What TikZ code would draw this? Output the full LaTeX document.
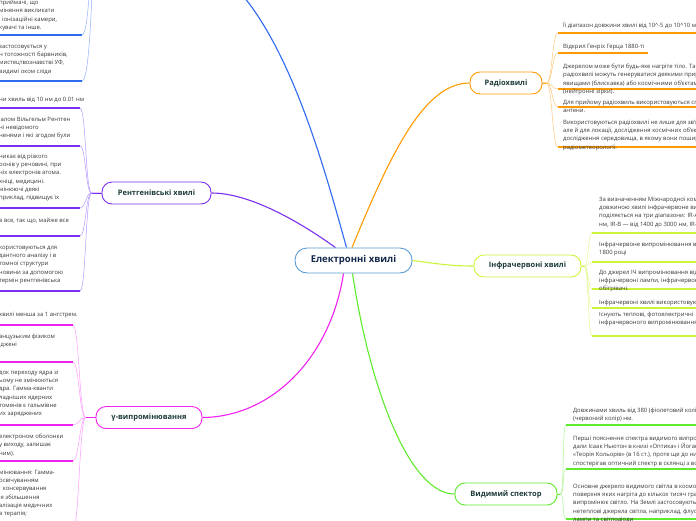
\documentclass[tikz,border=0pt]{standalone}
\usepackage{fontspec}
\setmainfont{Open Sans}
\usetikzlibrary{positioning,backgrounds}

\definecolor{cblue}{HTML}{2F6BF0}
\definecolor{cbluel}{HTML}{8FB0FF}
\definecolor{cpurp}{HTML}{7B2FF0}
\definecolor{cpurpl}{HTML}{B898FF}
\definecolor{cmag}{HTML}{F022F0}
\definecolor{cmagl}{HTML}{FF99FF}
\definecolor{corng}{HTML}{FF9A00}
\definecolor{corngl}{HTML}{FFC77A}
\definecolor{cyel}{HTML}{CCF53A}
\definecolor{cyell}{HTML}{E0F98A}
\definecolor{cgrn}{HTML}{5EEB2E}
\definecolor{cgrnl}{HTML}{A8F590}
\definecolor{ccent}{HTML}{5B9BD5}
\definecolor{ctxt}{HTML}{3A3A3A}
\definecolor{chead}{HTML}{1E3A3A}
\definecolor{cnavy}{HTML}{14284B}

\begin{document}
\begin{tikzpicture}[x=1pt, y=-1pt,
  topic/.style={draw, rounded corners=10pt, minimum height=22pt, fill=white,
                line width=0.9pt, text=chead, inner xsep=6pt,
                font=\fontsize{7.5}{9}\selectfont\bfseries},
  root/.style={draw=ccent, rounded corners=12pt, minimum width=117pt, minimum height=25pt,
               fill=white, line width=0.9pt, text=cnavy,
               font=\fontsize{9.5}{11}\selectfont\bfseries},
  leaf/.style={font=\fontsize{5.9}{8.2}\selectfont, text=ctxt, align=left,
               inner sep=0pt, anchor=north west},
  main/.style={line width=1.1pt},
  twig/.style={line width=0.5pt},
  uline/.style={line width=1.4pt}
]
\useasboundingbox (0,0) rectangle (696,520);

%% Central topic and main branches
\node[root] (nc) at (353.5,260.5) {Електронні хвилі};
\node[topic, draw=corng, minimum width=72pt] (nr) at (506,83) {Радіохвилі};
\node[topic, draw=cyel, minimum width=107pt] (ni) at (527.5,266) {Інфрачервоні хвилі};
\node[topic, draw=cgrn, minimum width=102pt] (nv) at (506,494) {Видимий спектор};
\node[topic, draw=cmag, minimum width=106pt] (ng) at (149,417.5) {γ-випромінювання};
\node[topic, draw=cpurp, minimum width=109pt] (np) at (156.5,193) {Рентгенівські хвилі};
\coordinate (bk) at (238,-10);
\coordinate (bj) at (96,-60);

%% Ends of the leaf underlines
\coordinate (r1) at (558,33);  \coordinate (r2) at (558,53);  \coordinate (r3) at (558,89);
\coordinate (r4) at (558,107); \coordinate (r5) at (558,147);
\coordinate (i1) at (592,233); \coordinate (i2) at (592,262); \coordinate (i3) at (592,289);
\coordinate (i4) at (592,308); \coordinate (i5) at (592,336);
\coordinate (v1) at (566,425); \coordinate (v2) at (566,469); \coordinate (v3) at (566,519);
\coordinate (p1) at (80,108);  \coordinate (p2) at (80,146);  \coordinate (p3) at (80,208);
\coordinate (p4) at (80,236);  \coordinate (p5) at (80,291);
\coordinate (g1) at (73,325);  \coordinate (g2) at (73,362);  \coordinate (g3) at (73,425);
\coordinate (g4) at (73,461);  \coordinate (g5) at (73,530);
\coordinate (b1) at (82,35);   \coordinate (b2) at (82,81);

%% Radio waves
\draw[uline, corng] (r1) -- ++(150,0);
\draw[uline, corng] (r2) -- ++(90,0);
\draw[uline, corng] (r3) -- ++(150,0);
\draw[uline, corng] (r4) -- ++(150,0);
\draw[uline, corng] (r5) -- ++(150,0);
\node[leaf] (rt1) at (563,22) {Її діапазон довжини хвилі від 10\textasciicircum-5 до 10\textasciicircum10 м};
\node[leaf] (rt2) at (563,44) {Відкрил Генріх Герца 1880-ті};
\node[leaf] (rt3) at (563,64) {Джерелом може бути будь-яке нагріте тіло. Також\\
  радіохвилі можуть генеруватися деякими природними\\
  явищами (блискавка) або космічними об'єктами\\(нейтронні зірки).};
\node[leaf] (rt4) at (563,100) {Для прийому радіохвиль використовуються спеціальні\\антени.};
\node[leaf] (rt5) at (563,120) {Використовуються радіохвилі не лише для зв'язку,\\
  але й для локації, дослідження космічних об'єктів,\\
  дослідження середовища, в якому вони поширюються,\\радіометеорології.};

%% Infrared waves
\foreach \i in {1,...,5} \draw[uline, cyel] (i\i) -- ++(110,0);
\node[leaf] (it1) at (599,197) {За визначенням Міжнародної комісії\\
  довжиною хвилі інфрачервоне випромінювання\\
  поділяється на три діапазони: IR-A\\нм, IR-B — від 1400 до 3000 нм, IR-C};
\node[leaf] (it2) at (599,242) {Інфрачервоне випромінювання відкрив\\1800 році};
\node[leaf] (it3) at (599,270) {До джерел ІЧ випромінювання відносяться\\
  інфрачервоні лампи, інфрачервоні\\обігрівачі.};
\node[leaf] (it4) at (599,300) {Інфрачервоні хвилі використовуються};
\node[leaf] (it5) at (599,312) {Існують теплові, фотоелектричні\\інфрачервоного випромінювання};

%% Visible spectrum
\foreach \i in {1,...,3} \draw[uline, cgrn] (v\i) -- ++(140,0);
\node[leaf] (vt1) at (573,408) {Довжинами хвиль від 380 (фіолетовий колір)\\(червоний колір) нм.};
\node[leaf] (vt2) at (573,436) {Перші пояснення спектра видимого випромінювання\\
  дали Ісаак Ньютон в книзі «Оптика» і Йоганн\\
  «Теорія Кольорів» (в 16 ст.), проте ще до них\\
  спостерігав оптичний спектр в склянці з водою};
\node[leaf] (vt3) at (573,484) {Основне джерело видимого світла в космосі\\
  поверхня яких нагріта до кількох тисяч градусів\\
  випромінює світло. На Землі застосовують\\
  нетеплові джерела світла, наприклад, флуоресцентні\\лампи та світлодіоди};

%% X-rays
\foreach \i in {1,...,5} \draw[uline, cpurp] (p\i) -- ++(-85,0);
\node[leaf] (pt1) at (-1,97) {ни хвиль від 10 нм до 0.01 нм};
\node[leaf] (pt2) at (-1,117) {іалом Вільгельм Рентген\\ні невідомого\\ненями і які згодом були};
\node[leaf] (pt3) at (-1,154) {никає від різкого\\ронів у речовині, при\\ніх електронів атома.\\
  хніці, медицині.\\мінюючі деякі\\приклад, підвищує їх};
\node[leaf] (pt4) at (-1,218) {а все, так що, майже все};
\node[leaf] (pt5) at (-1,246) {користовуються для\\дантного аналізу і в\\томної структури\\
  човини за допомогою\\термін рентгенівська};

%% Gamma rays
\foreach \i in {1,...,5} \draw[uline, cmag] (g\i) -- ++(-80,0);
\node[leaf] (gt1) at (-1,312) {хвилі менша за 1 ангстрем.};
\node[leaf] (gt2) at (-1,334) {анцузьким фізиком\\іджені};
\node[leaf] (gt3) at (-1,370) {док переходу ядра зі\\ьому не змінюються\\дра. Гамма-кванти\\
  ладніших ядерних\\томенів є гальмівне\\их заряджених};
\node[leaf] (gt4) at (-1,434) {електроном оболонки\\у виходу, залишає\\ним).};
\node[leaf] (gt5) at (-1,470) {мінювання: Гамма-\\освічуванням\\: консервування\\
  ія збільшення\\алізація медичних\\а терапія;};

%% Upper blue branch (its topic lies above the view)
\draw[uline, cblue] (b1) -- ++(-85,0);
\draw[uline, cblue] (b2) -- ++(-85,0);
\node[leaf] (bt1) at (-1,0) {приймачі, що\\мінення викликати\\, іонізаційні камери,\\кувачі та інше.};
\node[leaf] (bt2) at (-1,45) {застосовується у\\н тотожності барвників,\\мистецтвознавстві УФ,\\видимі оком сліди};

\begin{scope}[on background layer]
  \fill[white] (0,0) rectangle (696,520);
  %% main branches
  \draw[main, cblue] ([xshift=-7pt]nc.north) .. controls (325,170) and (292,50) .. (bk);
  \draw[main, corng] ([xshift=-1.5pt]nc.north) .. controls (392,150) and (425,83) .. (nr.west);
  \draw[main, cpurp] ([xshift=-18pt]nc.north) .. controls (300,222) and (250,193) .. (np.east);
  \draw[main, cyel] (nc.east) .. controls (440,264) and (450,266) .. (ni.west);
  \draw[main, cgrn] ([xshift=-1pt]nc.south) .. controls (370,390) and (410,494) .. (nv.west);
  \draw[main, cmag] ([xshift=-10pt]nc.south) .. controls (330,360) and (270,417) .. (ng.east);
  %% twigs to the leaves
  \foreach \i in {1,...,5}
    \draw[twig, corngl] (nr.east) -- ++(4,0) .. controls +(6,0) and +(-6,0) .. (r\i);
  \foreach \i in {1,...,5}
    \draw[twig, cyell] (ni.east) -- ++(3,0) .. controls +(4,0) and +(-4,0) .. (i\i);
  \foreach \i in {1,...,3}
    \draw[twig, cgrnl] (nv.east) -- ++(3,0) .. controls +(4,0) and +(-4,0) .. (v\i);
  \foreach \i in {1,...,5}
    \draw[twig, cpurpl] (np.west) -- ++(-10,0) .. controls +(-6,0) and +(6,0) .. (p\i);
  \foreach \i in {1,...,5}
    \draw[twig, cmagl] (ng.west) -- ++(-10,0) .. controls +(-6,0) and +(6,0) .. (g\i);
  \draw[twig, cbluel] (bj) .. controls +(-6,0) and +(8,0) .. (b1);
  \draw[twig, cbluel] (bj) .. controls +(-4,0) and +(10,0) .. (b2);
  \draw[twig, cpurp, line width=1pt] (np.west) -- ++(-10,0);
  \draw[twig, cmag, line width=1pt] (ng.west) -- ++(-10,0);
  \draw[twig, corng, line width=1pt] (nr.east) -- ++(4,0);
  \draw[twig, cyel, line width=1pt] (ni.east) -- ++(3,0);
  \draw[twig, cgrn, line width=1pt] (nv.east) -- ++(3,0);
\end{scope}
\end{tikzpicture}
\end{document}
